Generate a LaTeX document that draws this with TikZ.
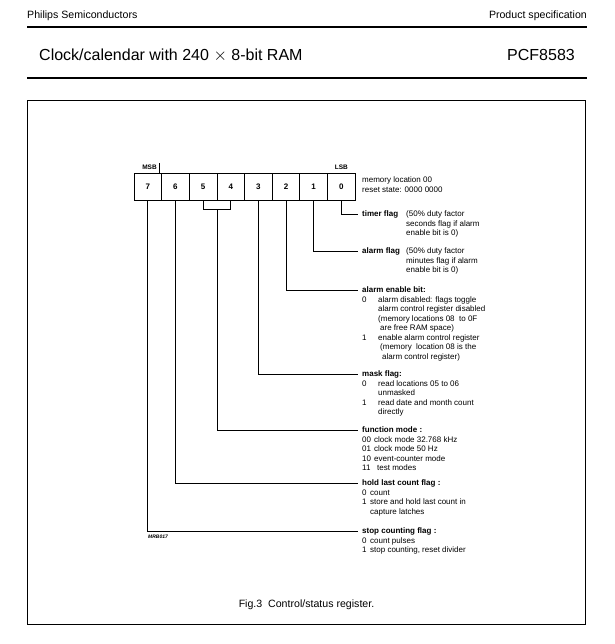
\documentclass[tikz,border=0pt]{standalone}
\usepackage{fontspec}
\setmainfont{Liberation Sans}
\usetikzlibrary{calc}
\tikzset{
  cell/.style={draw, line width=0.8pt, minimum width=27.65pt, minimum height=27pt, inner sep=0pt, font=\fontsize{8}{9.5}\selectfont\bfseries},
  conn/.style={line width=0.8pt},
  desc/.style={anchor=base west, inner sep=0pt, font=\fontsize{8}{9.5}\selectfont},
  hdr/.style={inner sep=0pt, font=\fontsize{10.6}{12}\selectfont},
  ttl/.style={inner sep=0pt, font=\fontsize{16}{18}\selectfont},
}
\begin{document}
\begin{tikzpicture}[x=1pt,y=-1pt]
\useasboundingbox (0,0) rectangle (614,644);
% header
\node[hdr, anchor=base west] (ph) at (27,19) {Philips Semiconductors};
\node[hdr, anchor=base east] (ps) at (587,19) {Product specification};
\draw[line width=1.2pt] (27,27) -- (587,27);
\node[ttl, anchor=base west] (tt) at (39,61) {Clock/calendar with 240 $\times$ 8-bit RAM};
\node[ttl, anchor=base east] (pn) at (575,61) {PCF8583};
\draw[line width=1.2pt] (27,78) -- (587,78);
% frame
\draw[line width=0.9pt] (27,100) rectangle (585,624);
% register
\foreach \b [count=\i from 0] in {7,6,5,4,3,2,1,0}
  \node[cell] (c\b) at (147.8+\i*27.65,186.5) {\b};
\node[inner sep=0pt, font=\fontsize{6.5}{7}\selectfont\bfseries] (msb) at (149.5,167.5) {MSB};
\draw[line width=0.7pt] (159.3,163.5) -- (159.3,173);
\node[inner sep=0pt, font=\fontsize{6.5}{7}\selectfont\bfseries] (lsb) at (341.4,167.5) {LSB};
\node[desc, anchor=west] (mem) at (362,185.5) {\begin{tabular}{@{}l@{}}memory location 00\\reset state: 0000 0000\end{tabular}};
% endpoints
\coordinate (e0) at (358,214);
\coordinate (e1) at (358,251);
\coordinate (e2) at (358,290);
\coordinate (e3) at (358,374);
\coordinate (e45) at (358,430);
\coordinate (e6) at (358,483);
\coordinate (e7) at (358,531);
\coordinate (br) at ($(c5.south)!0.5!(c4.south)+(0,9)$);
% connectors
\draw[conn] (c0.south) |- (e0);
\draw[conn] (c1.south) |- (e1);
\draw[conn] (c2.south) |- (e2);
\draw[conn] (c3.south) |- (e3);
\draw[conn] (c5.south) |- (br) -| (c4.south);
\draw[conn] (br) |- (e45);
\draw[conn] (c6.south) |- (e6);
\draw[conn] (c7.south) |- (e7);
% descriptions
\node[desc] (d0) at (362,216.8) {\begin{tabular}[t]{@{}l@{}l@{}}\makebox[44pt][l]{\bfseries timer flag} & (50\% duty factor\\ & seconds flag if alarm\\ & enable bit is 0)\end{tabular}};
\node[desc] (d1) at (362,253.8) {\begin{tabular}[t]{@{}l@{}l@{}}\makebox[44pt][l]{\bfseries alarm flag} & (50\% duty factor\\ & minutes flag if alarm\\ & enable bit is 0)\end{tabular}};
\node[desc] (d2) at (362,292.8) {\begin{tabular}[t]{@{}l@{}l@{}}\multicolumn{2}{@{}l@{}}{\bfseries alarm enable bit:}\\
\makebox[16pt][l]{0} & alarm disabled: flags toggle\\
 & alarm control register disabled\\
 & (memory locations 08\ \ to 0F\\
 & \hspace{2pt}are free RAM space)\\
\makebox[16pt][l]{1} & enable alarm control register\\
 & \hspace{2pt}(memory\ \ location 08 is the\\
 & \hspace{4pt}alarm control register)\end{tabular}};
\node[desc] (d3) at (362,376.8) {\begin{tabular}[t]{@{}l@{}l@{}}\multicolumn{2}{@{}l@{}}{\bfseries mask flag:}\\
\makebox[16pt][l]{0} & read locations 05 to 06\\
 & unmasked\\
\makebox[16pt][l]{1} & read date and month count\\
 & directly\end{tabular}};
\node[desc] (d45) at (362,432.8) {\begin{tabular}[t]{@{}l@{}l@{}}\multicolumn{2}{@{}l@{}}{\bfseries function mode :}\\
\makebox[12pt][l]{00} & clock mode 32.768 kHz\\
\makebox[12pt][l]{01} & clock mode 50 Hz\\
\makebox[12pt][l]{10} & event-counter mode\\
\makebox[12pt][l]{11} & \hspace{3pt}test modes\end{tabular}};
\node[desc] (d6) at (362,485.8) {\begin{tabular}[t]{@{}l@{}l@{}}\multicolumn{2}{@{}l@{}}{\bfseries hold last count flag :}\\
\makebox[8pt][l]{0} & count\\
\makebox[8pt][l]{1} & store and hold last count in\\
 & capture latches\end{tabular}};
\node[desc] (d7) at (362,533.8) {\begin{tabular}[t]{@{}l@{}l@{}}\multicolumn{2}{@{}l@{}}{\bfseries stop counting flag :}\\
\makebox[8pt][l]{0} & count pulses\\
\makebox[8pt][l]{1} & stop counting, reset divider\end{tabular}};
\node[inner sep=0pt, anchor=west, font=\fontsize{5}{6}\selectfont\bfseries\itshape] (mrb) at (148,537) {MRB017};
\node[inner sep=0pt, anchor=base, font=\fontsize{10.6}{12}\selectfont] (cap) at (306.5,607) {Fig.3\ \ Control/status register.};
\end{tikzpicture}
\end{document}
